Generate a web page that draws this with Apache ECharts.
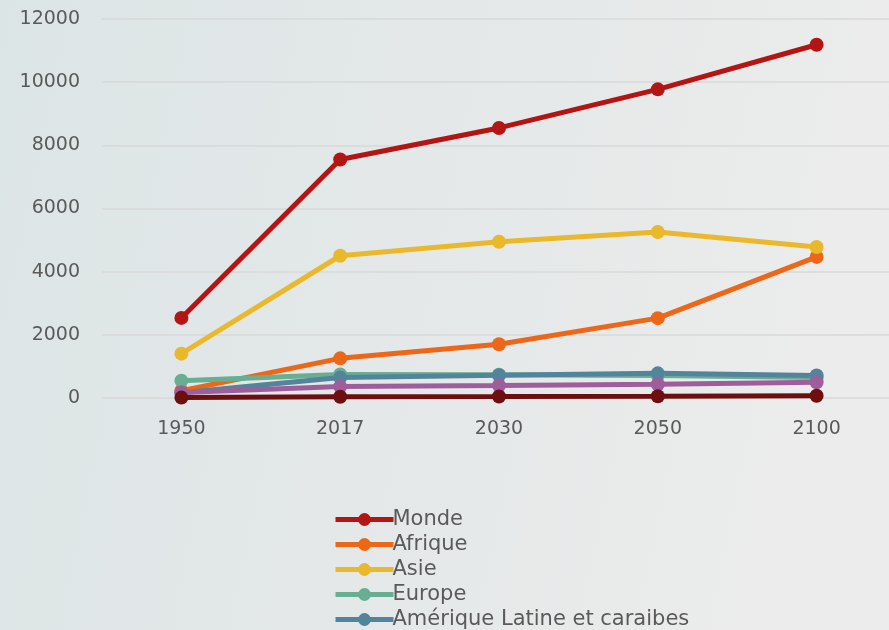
<!DOCTYPE html>
<html>
<head>
<meta charset="utf-8">
<script src="https://cdn.jsdelivr.net/npm/echarts@6/dist/echarts.min.js"></script>
<style>
  html, body { margin: 0; padding: 0; }
  #chart { width: 889px; height: 630px; }
</style>
</head>
<body>
<div id="chart"></div>
<script>
// années
const years = ['1950', '2017', '2030', '2050', '2100'];
const yTicks = [0, 2000, 4000, 6000, 8000, 10000, 12000];

// population en millions
const monde = [2536, 7550, 8551, 9772, 11184];
const afrique = [228, 1256, 1704, 2528, 4468];
const asie = [1404, 4504, 4947, 5257, 4780];
const europe = [549, 742, 739, 716, 653];
const ameriqueLatine = [169, 646, 718, 780, 712];
const ameriqueNord = [172, 361, 395, 435, 499];
const oceanie = [13, 41, 48, 57, 72];

const seriesDefs = [
  { name: 'Monde', data: monde, color: '#b31515' },
  { name: 'Afrique', data: afrique, color: '#ec6718' },
  { name: 'Asie', data: asie, color: '#e9b92b' },
  { name: 'Europe', data: europe, color: '#67ae92' },
  { name: 'Amérique Latine et caraibes', data: ameriqueLatine, color: '#52849c' },
  { name: 'Amérique du Nord', data: ameriqueNord, color: '#9e5e9c' },
  { name: 'Océanie', data: oceanie, color: '#6e0f0f' }
];

const font = '"DejaVu Sans", "Noto Sans", sans-serif';

const chart = echarts.init(document.getElementById('chart'));
chart.setOption({
  backgroundColor: {
    type: 'linear', x: 0, y: 0, x2: 1, y2: 0.3,
    colorStops: [
      { offset: 0, color: '#dce5e6' },
      { offset: 0.5, color: '#e4e8e8' },
      { offset: 1, color: '#ececec' }
    ]
  },
  animation: false,
  grid: { left: 102, top: 19, width: 794, height: 379, containLabel: false, outerBoundsMode: 'none' },
  legend: {
    orient: 'vertical',
    left: 328,
    top: 504,
    height: 400,
    itemGap: 4,
    itemWidth: 58,
    itemHeight: 16,
    lineStyle: { width: 5 },
    textStyle: { color: '#5a5a5a', fontSize: 21, fontFamily: font, padding: [0, 0, 0, -6] },
    data: seriesDefs.map(s => s.name)
  },
  xAxis: {
    type: 'category',
    data: years,
    boundaryGap: true,
    axisLine: { show: false },
    axisTick: { show: false },
    axisLabel: { color: '#5a5a5a', fontSize: 19, fontFamily: font, margin: 22 }
  },
  yAxis: {
    type: 'value',
    min: yTicks[0],
    max: yTicks[yTicks.length - 1],
    interval: 2000,
    axisLine: { show: false },
    axisTick: { show: false },
    axisLabel: { color: '#5a5a5a', fontSize: 19, fontFamily: font, margin: 22, formatter: v => String(v) },
    splitLine: { lineStyle: { color: '#d9d9d9', width: 1.5 } }
  },
  series: seriesDefs.map(s => ({
    name: s.name,
    type: 'line',
    data: s.data,
    symbol: 'circle',
    symbolSize: 14,
    lineStyle: { width: 5, color: s.color },
    itemStyle: { color: s.color }
  }))
});
</script>
</body>
</html>
